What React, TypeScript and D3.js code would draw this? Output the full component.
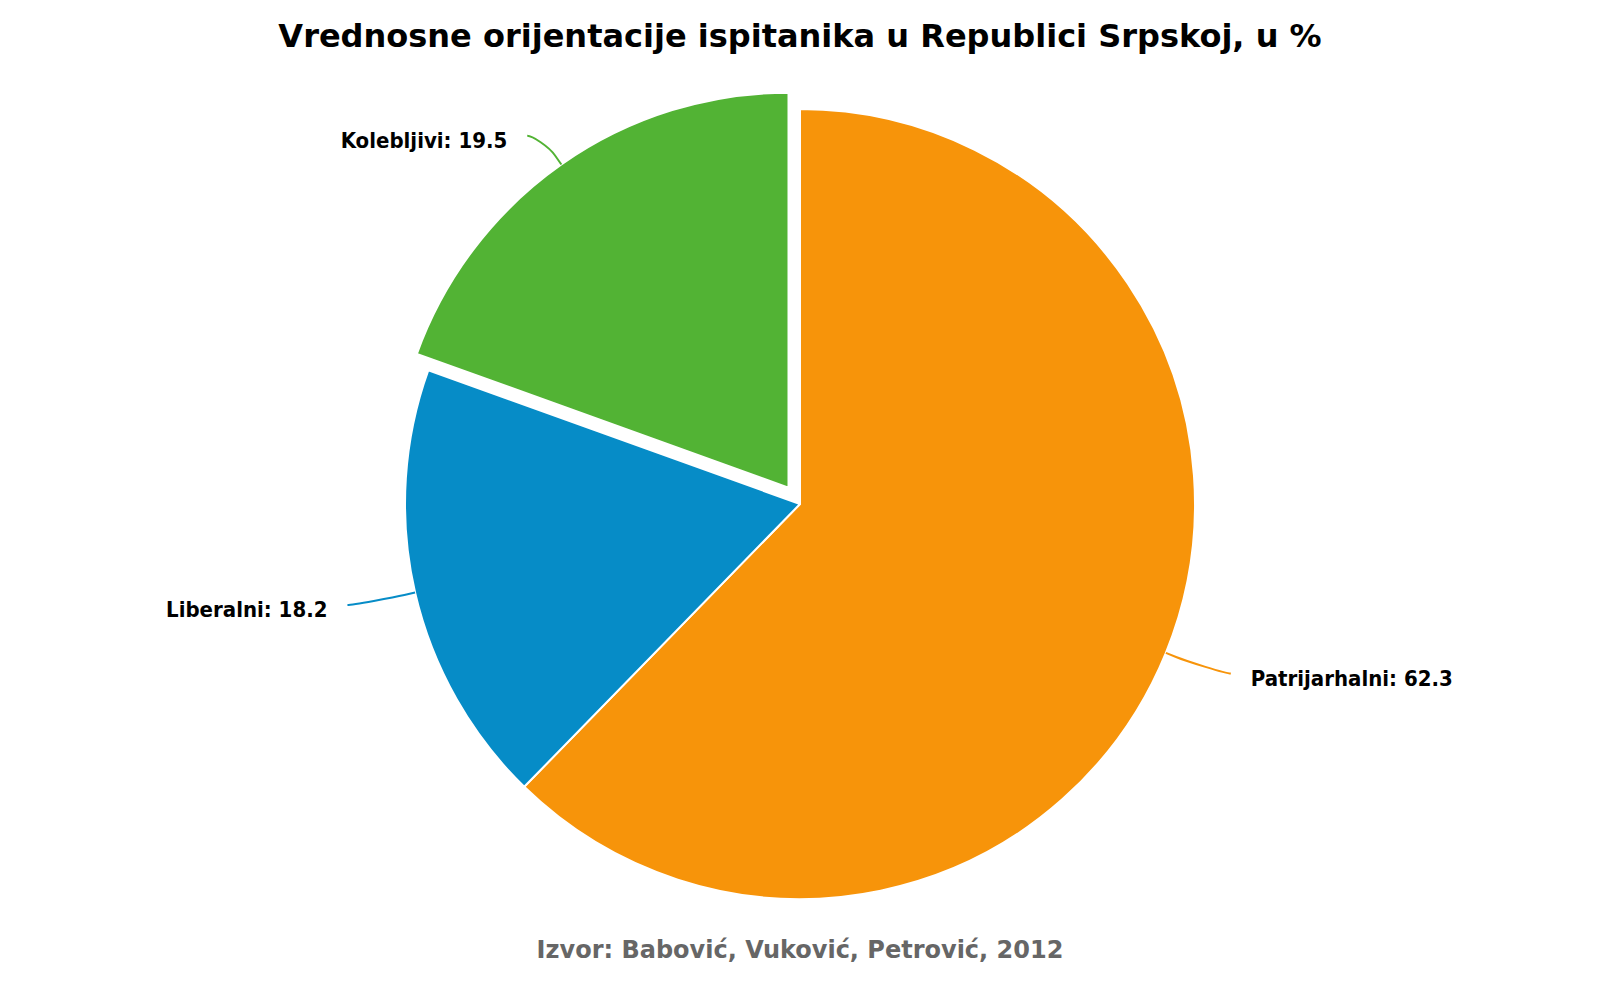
import React from "react";
import { pie, arc } from "d3";

const categories = ["Patrijarhalni", "Liberalni", "Kolebljivi"];
const values = [62.3, 18.2, 19.5];
const colors = ["#F7940A", "#068CC7", "#52B334"];
const slicedCategory = "Kolebljivi";

const titleText = "Vrednosne orijentacije ispitanika u Republici Srpskoj, u %";
const creditText = "Izvor: Babović, Vuković, Petrović, 2012";

const width = 1600;
const height = 1000;
const cx = 800;
const cy = 504;
const radius = 395;
const slicedOffset = 20;
const labelDistance = 55;
const labelShift = 14;
const font = "'DejaVu Sans', Verdana, sans-serif";
const labelFont = "'DejaVu Sans Condensed', 'DejaVu Sans', sans-serif";

const App = () => {
  const data = categories.map((name, i) => ({ name, value: values[i], color: colors[i] }));
  const arcs = pie<any>().sort(null).value((d) => d.value)(data);
  const arcGen = arc<any>().innerRadius(0).outerRadius(radius);

  return (
    <svg width={ width } height={ height } style={ { position: "absolute", left: 0, top: 0, background: "#fff" } }>
      <text x={ cx } y={ 47 } textAnchor="middle" fontFamily={ font } fontWeight="bold" fontSize={ 32 } fill="#000">
        { titleText }
      </text>
      { arcs.map((a) => {
        const mid = (a.startAngle + a.endAngle) / 2;
        const dx = Math.sin(mid);
        const dy = -Math.cos(mid);
        const off = a.data.name === slicedCategory ? slicedOffset : 0;
        // sliced center
        const sx = cx + dx * off;
        const sy = cy + dy * off;
        const left = dx < 0;
        // point on slice edge, break point, control point
        const p0 = [sx + dx * radius, sy + dy * radius];
        const p1 = [sx + dx * (radius + 11), sy + dy * (radius + 11)];
        const c2 = [2 * p1[0] - p0[0], 2 * p1[1] - p0[1]];
        // label anchor, from the unsliced center
        const ax = cx + dx * (radius + labelDistance) + (left ? -labelShift : labelShift);
        const ay = cy + dy * (radius + labelDistance);
        const c1 = [ax + (left ? 5 : -5), ay];
        const path = `M${ ax },${ ay }C${ c1[0] },${ c1[1] } ${ c2[0] },${ c2[1] } ${ p1[0] },${ p1[1] }L${ p0[0] },${ p0[1] }`;
        return (
          <g key={ a.data.name }>
            <path
              d={ arcGen(a) || "" }
              transform={ `translate(${ sx },${ sy })` }
              fill={ a.data.color }
              stroke="#fff"
              strokeWidth={ 2 }
              strokeLinejoin="round"
            />
            <path d={ path } fill="none" stroke={ a.data.color } strokeWidth={ 2 }/>
            <text
              x={ ax + (left ? -20 : 20) }
              y={ ay + 12 }
              textAnchor={ left ? "end" : "start" }
              fontFamily={ labelFont }
              fontWeight="bold"
              fontSize={ 22 }
              fill="#000"
            >
              { `${ a.data.name }: ${ a.data.value }` }
            </text>
          </g>
        );
      }) }
      <text x={ cx } y={ 958 } textAnchor="middle" fontFamily={ font } fontWeight="bold" fontSize={ 24 } fill="#666666">
        { creditText }
      </text>
    </svg>
  );
};

export default App;
